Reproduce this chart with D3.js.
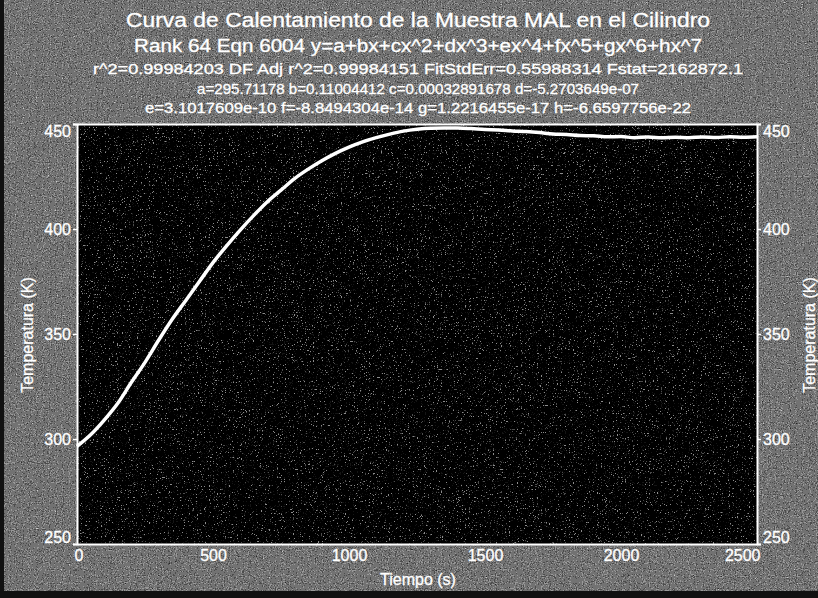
<!DOCTYPE html>
<html>
<head>
<meta charset="utf-8">
<script src="https://cdn.jsdelivr.net/npm/d3@7"></script>
<style>
  html, body { margin: 0; padding: 0; background: #000; }
  svg { display: block; font-family: "Liberation Sans", Arial, sans-serif; }
</style>
</head>
<body>
<svg id="chart" width="818" height="598"></svg>
<script>
// ---- data ----
const timeS = [0, 50, 100, 150, 200, 250, 300, 350, 400, 450, 500, 550, 600, 650, 700, 750, 800, 850, 900, 950,
  1000, 1050, 1100, 1150, 1200, 1250, 1300, 1350, 1400, 1450, 1500, 1550, 1600, 1650, 1700, 1750, 1800, 1850,
  1900, 1950, 2000, 2050, 2100, 2150, 2200, 2250, 2300, 2350, 2400, 2450, 2500];
const tempK = [296.5, 302, 309, 317, 327, 336.5, 347, 357, 366, 375, 384, 392, 399.5, 406.5, 413, 418.5, 424, 428.5, 432.5, 436,
  439, 441.5, 443.5, 445.2, 446.6, 447.5, 448.0, 448.1, 448.1, 447.8, 447.4, 447.2, 446.7, 446.4, 445.9, 445.2, 445.0, 444.5,
  444.4, 443.9, 444.0, 443.5, 443.8, 443.4, 443.7, 443.5, 443.8, 443.6, 443.9, 443.7, 443.9];
const xTicks = [0, 500, 1000, 1500, 2000, 2500];
const yTicks = [250, 300, 350, 400, 450];
const titleLines = [
  "Curva de Calentamiento de la Muestra MAL en el Cilindro",
  "Rank 64  Eqn 6004  y=a+bx+cx^2+dx^3+ex^4+fx^5+gx^6+hx^7",
  "r^2=0.99984203  DF Adj r^2=0.99984151  FitStdErr=0.55988314  Fstat=2162872.1",
  "a=295.71178 b=0.11004412 c=0.00032891678 d=-5.2703649e-07",
  "e=3.1017609e-10 f=-8.8494304e-14 g=1.2216455e-17 h=-6.6597756e-22"
];
const xTitle = "Tiempo (s)";
const yTitle = "Temperatura (K)";

// ---- layout ----
const W = 818, H = 598;
const plot = { left: 77, right: 757, top: 124, bottom: 544 };

const svg = d3.select("#chart");
const defs = svg.append("defs");

// scan-like speckle textures (decoration only)
function speckle(id, freq, seed, gain, table) {
  const f = defs.append("filter").attr("id", id)
    .attr("x", 0).attr("y", 0).attr("width", 1).attr("height", 1)
    .attr("color-interpolation-filters", "sRGB");
  f.append("feTurbulence").attr("type", "fractalNoise").attr("baseFrequency", freq)
    .attr("numOctaves", 2).attr("seed", seed);
  const k = (gain / 3).toFixed(3), off = (0.5 - gain / 2).toFixed(3);
  f.append("feColorMatrix").attr("type", "matrix")
    .attr("values", `${k} ${k} ${k} 0 ${off}  ${k} ${k} ${k} 0 ${off}  ${k} ${k} ${k} 0 ${off}  0 0 0 0 1`);
  const ct = f.append("feComponentTransfer");
  ["feFuncR", "feFuncG", "feFuncB"].forEach(fn =>
    ct.append(fn).attr("type", "discrete").attr("tableValues", table));
}
speckle("speckleOuter", 0.85, 3, 1, "0 0.15 0.3 0.45 0.6 0.8 1");
speckle("speckleInner", 0.75, 7, 3, "0 0 0 0 0 0 0 0.08 0.3 0.55");

// background
svg.append("rect").attr("x", 0).attr("y", 0).attr("width", W).attr("height", H).attr("fill", "#111");
svg.append("rect").attr("x", 4).attr("y", 0).attr("width", W - 4).attr("height", H - 7)
  .attr("fill", "#707070").attr("filter", "url(#speckleOuter)");

// plot area
svg.append("rect")
  .attr("x", plot.left).attr("y", plot.top)
  .attr("width", plot.right - plot.left).attr("height", plot.bottom - plot.top)
  .attr("fill", "#050505").attr("filter", "url(#speckleInner)");

const x = d3.scaleLinear().domain([0, 2500]).range([plot.left, plot.right]);
const y = d3.scaleLinear().domain([250, 450]).range([plot.bottom, plot.top]);

// titles
const titleSpec = [
  { y: 27, size: 20, len: 584 },
  { y: 52, size: 18, len: 568 },
  { y: 74, size: 14.5, len: 650 },
  { y: 94, size: 14.5, len: 442 },
  { y: 113, size: 14.5, len: 546 }
];
titleLines.forEach((t, i) => {
  svg.append("text")
    .attr("x", 418).attr("y", titleSpec[i].y)
    .attr("text-anchor", "middle")
    .attr("font-size", titleSpec[i].size)
    .attr("fill", "#fff")
    .attr("stroke", "#fff").attr("stroke-width", 0.3)
    .attr("textLength", titleSpec[i].len)
    .attr("lengthAdjust", "spacingAndGlyphs")
    .text(t);
});

// axes
const axisStyle = g => {
  g.selectAll("path").attr("stroke", "#fff").attr("stroke-width", 2);
  g.selectAll("line").attr("stroke", "#fff").attr("stroke-width", 1.5);
  g.selectAll("text").attr("fill", "#fff").attr("font-size", 16)
    .attr("stroke", "#fff").attr("stroke-width", 0.3)
    .attr("font-family", "'Liberation Sans', Arial, sans-serif");
};

svg.append("g").attr("transform", `translate(${plot.left},0)`)
  .call(d3.axisLeft(y).tickValues(yTicks).tickSize(4).tickPadding(2).tickFormat(d3.format("d")))
  .call(axisStyle)
  .call(g => g.selectAll(".tick text").attr("dy", d => d === 450 ? "0.75em" : d === 250 ? "-0.1em" : "0.32em"));

svg.append("g").attr("transform", `translate(${plot.right},0)`)
  .call(d3.axisRight(y).tickValues(yTicks).tickSize(4).tickPadding(2).tickFormat(d3.format("d")))
  .call(axisStyle)
  .call(g => g.selectAll(".tick text").attr("dy", d => d === 450 ? "0.75em" : d === 250 ? "-0.1em" : "0.32em"));

svg.append("g").attr("transform", `translate(0,${plot.bottom})`)
  .call(d3.axisBottom(x).tickValues(xTicks).tickSize(0).tickPadding(6).tickFormat(d3.format("d")))
  .call(axisStyle)
  .call(g => g.selectAll(".tick text").attr("text-anchor", d => d === 0 ? "start" : d === 2500 ? "end" : "middle")
    .attr("dx", d => d === 0 ? "-3" : d === 2500 ? "3" : "0"));

svg.append("g").attr("transform", `translate(0,${plot.top})`)
  .call(d3.axisTop(x).tickValues(xTicks).tickSize(0).tickFormat(""))
  .call(axisStyle);

// axis titles
const titleAttrs = sel => sel.attr("text-anchor", "middle").attr("font-size", 16)
  .attr("fill", "#fff").attr("stroke", "#fff").attr("stroke-width", 0.3);
svg.append("text").attr("x", 418).attr("y", 585).call(titleAttrs).text(xTitle);
svg.append("text").attr("transform", "translate(33,335) rotate(-90)").call(titleAttrs).text(yTitle);
svg.append("text").attr("transform", "translate(815,335) rotate(-90)").call(titleAttrs).text(yTitle);

// curve
const line = d3.line()
  .x((d, i) => x(timeS[i]))
  .y(d => y(d))
  .curve(d3.curveMonotoneX);

svg.append("path")
  .datum(tempK)
  .attr("d", line)
  .attr("fill", "none")
  .attr("stroke", "#fff")
  .attr("stroke-width", 3.5)
  .attr("stroke-linejoin", "round");
</script>
</body>
</html>
